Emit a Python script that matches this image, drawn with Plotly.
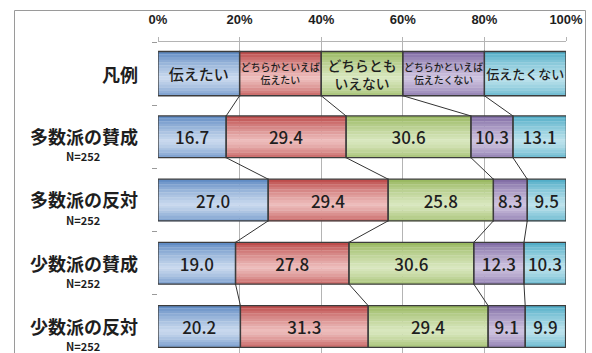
import plotly.graph_objects as go

# ---------------- data ----------------
row_labels = ["凡例", "多数派の賛成", "多数派の反対", "少数派の賛成", "少数派の反対"]
row_sub = ["", "N=252", "N=252", "N=252", "N=252"]
series_names = ["伝えたい", "どちらかといえば<br>伝えたい", "どちらとも<br>いえない",
                "どちらかといえば<br>伝えたくない", "伝えたくない"]
legend_vals = [20, 20, 20, 20, 20]
s_tsutaetai = [16.7, 27.0, 19.0, 20.2]
s_dochira_tsutaetai = [29.4, 29.4, 27.8, 31.3]
s_dochiratomo = [30.6, 25.8, 30.6, 29.4]
s_dochira_nai = [10.3, 8.3, 12.3, 9.1]
s_tsutaetakunai = [13.1, 9.5, 10.3, 9.9]
tick_vals = [0, 20, 40, 60, 80, 100]
tick_text = ["0%", "20%", "40%", "60%", "80%", "100%"]

series = [s_tsutaetai, s_dochira_tsutaetai, s_dochiratomo, s_dochira_nai, s_tsutaetakunai]

# ---------------- style ----------------
dark = ["#4577B8", "#B02E2D", "#88AC48", "#6C5595", "#37A0BE"]
light = ["#C9D9EE", "#EDBDBC", "#D9E7BF", "#CEC3DF", "#BCE2EC"]
legend_font = [15, 9.9, 13.8, 9.9, 13]
FONT = "Noto Sans CJK JP"
W_PX, H_PX = 592, 353
ML, MR, MT, MB = 158, 26, 42, 0
PW, PH = W_PX - ML - MR, H_PX - MT - MB

ypos = list(range(len(row_labels)))
widths = [0.70] + [0.66] * (len(row_labels) - 1)


def hex2rgb(h):
    h = h.lstrip("#")
    return [int(h[i:i + 2], 16) for i in (0, 2, 4)]


def mix(a, b, f):
    ca, cb = hex2rgb(a), hex2rgb(b)
    return "rgb(%d,%d,%d)" % tuple(round(ca[i] + (cb[i] - ca[i]) * f) for i in range(3))


def profile(t):
    # lightness amount by vertical position (0 top, 1 bottom)
    if t < 0.6:
        return min(1.0, 0.1 + 0.9 * (t / 0.6) ** 0.7)
    return 1.0 - 0.6 * ((t - 0.6) / 0.4) ** 1.3


fig = go.Figure()

rows_vals = [[legend_vals[i]] + series[i] for i in range(5)]
starts = []
cum = [0.0] * len(row_labels)
for i in range(5):
    starts.append(cum[:])
    cum = [cum[k] + rows_vals[i][k] for k in range(len(row_labels))]

NSTRIP = 16
for i in range(5):
    for s in range(NSTRIP):
        t = (s + 0.5) / NSTRIP
        fig.add_trace(go.Bar(
            orientation="h", y=ypos, x=rows_vals[i], base=starts[i],
            width=[w / NSTRIP + 0.004 for w in widths],
            offset=[-w / 2 + s * w / NSTRIP for w in widths],
            marker=dict(color=mix(dark[i], light[i], profile(t)), line=dict(width=0)),
            showlegend=False, hoverinfo="skip"))

# outlines + text
for i in range(5):
    texts = [series_names[i]] + ["%.1f" % v for v in series[i]]
    sizes = [legend_font[i]] + [17] * 4
    fig.add_trace(go.Bar(
        orientation="h", y=ypos, x=rows_vals[i], base=starts[i], width=widths,
        marker=dict(color="rgba(0,0,0,0)", line=dict(color="#3C3C3C", width=1.3)),
        text=texts, textposition="inside", insidetextanchor="middle",
        constraintext="none",
        textfont=dict(family=FONT, size=sizes, color="#1E1E1E", weight=500),
        showlegend=False, hoverinfo="skip"))

# series lines between rows
lx, ly = [], []
for k in range(len(row_labels) - 1):
    for i in range(4):
        lx += [starts[i + 1][k], starts[i + 1][k + 1], None]
        ly += [k + widths[k] / 2, k + 1 - widths[k + 1] / 2, None]
fig.add_trace(go.Scatter(x=lx, y=ly, mode="lines", line=dict(color="#333333", width=1),
                         showlegend=False, hoverinfo="skip"))


def px2paper_x(px):
    return (px - ML) / PW


for k, lab in enumerate(row_labels):
    fig.add_annotation(x=px2paper_x(140), xref="paper", xanchor="right",
                       y=k if k == 0 else k - 0.01, yref="y", yanchor="middle",
                       text="<b>%s</b>" % lab, showarrow=False,
                       font=dict(family=FONT, size=18, color="#1E1E1E"))
    if row_sub[k]:
        fig.add_annotation(x=px2paper_x(83), xref="paper", xanchor="center",
                           y=k + 0.31, yref="y", yanchor="middle",
                           text="<b>%s</b>" % row_sub[k], showarrow=False,
                           font=dict(family=FONT, size=11, color="#1E1E1E"))

# outer frame
fig.add_shape(type="rect", xref="paper", yref="paper",
              x0=px2paper_x(14.5), x1=px2paper_x(585.5),
              y0=-0.1, y1=(H_PX - 10.5) / PH,
              line=dict(color="#9A9A9A", width=1), fillcolor="rgba(0,0,0,0)", layer="below")

fig.update_layout(
    width=W_PX, height=H_PX,
    margin=dict(l=ML, r=MR, t=MT, b=MB),
    barmode="overlay",
    paper_bgcolor="white", plot_bgcolor="white",
    font=dict(family=FONT),
    xaxis=dict(side="top", range=[0, 100], tickvals=tick_vals, ticktext=tick_text,
               showgrid=True, gridcolor="#B4B4B4", gridwidth=1,
               showline=True, linecolor="#B4B4B4", linewidth=1,
               ticks="outside", ticklen=4, tickcolor="#B4B4B4",
               ticklabelstandoff=8,
               tickfont=dict(family="Liberation Sans", size=13, color="#1E1E1E", weight="bold"),
               zeroline=False, fixedrange=True),
    yaxis=dict(range=[len(row_labels) - 1 + 0.42, -0.5],
               tickvals=[k - 0.5 for k in range(len(row_labels))],
               ticktext=[""] * len(row_labels),
               ticks="outside", ticklen=5, tickcolor="#9A9A9A",
               showgrid=False, zeroline=False, showline=False, fixedrange=True),
)

fig.write_html("out.html")
